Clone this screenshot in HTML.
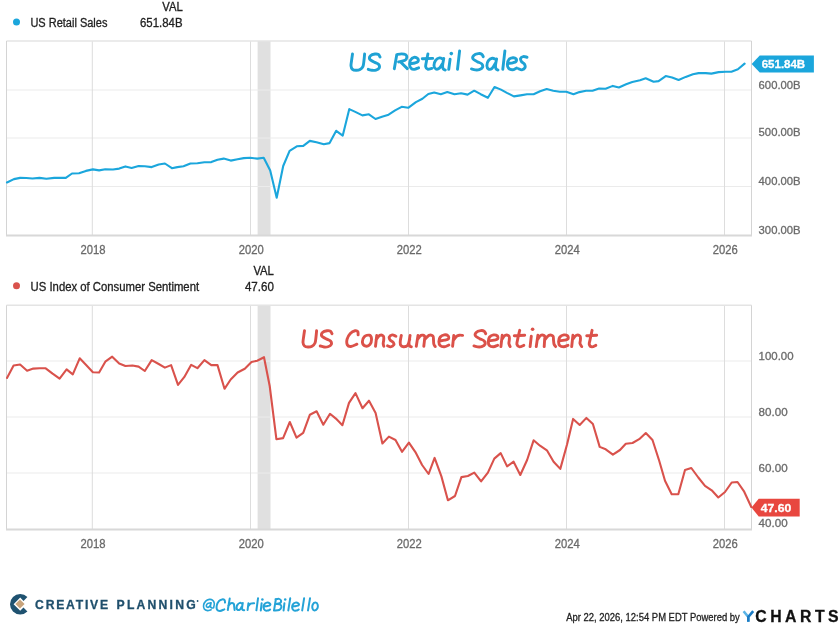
<!DOCTYPE html>
<html><head><meta charset="utf-8"><style>
html,body{margin:0;padding:0;background:#fff;width:840px;height:626px;overflow:hidden}
svg{display:block;font-family:"Liberation Sans", sans-serif;will-change:transform}
</style></head><body>
<svg width="840" height="626" viewBox="0 0 840 626">
<rect x="257.6" y="41" width="12.899999999999977" height="194.6" fill="#e0e0e0"/>
<line x1="6.5" y1="90" x2="751.5" y2="90" stroke="#ebebeb" stroke-width="1"/>
<line x1="6.5" y1="138" x2="751.5" y2="138" stroke="#ebebeb" stroke-width="1"/>
<line x1="6.5" y1="186.5" x2="751.5" y2="186.5" stroke="#ebebeb" stroke-width="1"/>
<line x1="92.3" y1="41" x2="92.3" y2="235.6" stroke="#dddddd" stroke-width="1"/>
<line x1="250.5" y1="41" x2="250.5" y2="235.6" stroke="#dddddd" stroke-width="1"/>
<line x1="408.5" y1="41" x2="408.5" y2="235.6" stroke="#dddddd" stroke-width="1"/>
<line x1="566.5" y1="41" x2="566.5" y2="235.6" stroke="#dddddd" stroke-width="1"/>
<line x1="724.5" y1="41" x2="724.5" y2="235.6" stroke="#dddddd" stroke-width="1"/>
<line x1="6.5" y1="41" x2="751.5" y2="41" stroke="#e4e4e4" stroke-width="1.6"/>
<line x1="6.5" y1="41" x2="6.5" y2="235.6" stroke="#d4d4d4" stroke-width="1"/>
<line x1="751.5" y1="41" x2="751.5" y2="235.6" stroke="#d4d4d4" stroke-width="1"/>
<line x1="6.0" y1="235.6" x2="752.0" y2="235.6" stroke="#d8d8d8" stroke-width="2"/>
<polyline points="7.0,182.5 13.9,179.1 20.1,177.9 26.3,178.0 32.5,178.5 39.5,177.9 46.4,178.8 54.2,177.9 65.8,177.9 72.0,173.5 79.0,173.2 85.9,170.9 92.9,169.4 99.1,170.4 105.3,169.2 113.0,169.5 119.2,168.6 125.4,166.4 131.6,167.9 138.6,166.0 144.8,166.3 151.7,167.1 158.7,164.5 164.9,163.5 171.9,168.2 177.3,167.1 183.5,166.3 190.4,163.5 197.4,163.2 204.4,162.3 211.3,162.1 217.5,159.8 223.7,158.6 230.7,160.6 237.6,159.3 243.8,158.1 250.1,157.7 257.3,158.6 263.7,157.7 270.2,170.4 276.7,197.7 283.2,166.0 289.6,150.9 296.8,146.3 303.3,145.9 309.8,140.9 316.5,142.2 323.8,144.2 329.6,143.1 336.2,130.8 342.7,135.7 349.3,109.1 355.8,112.1 362.4,115.4 368.9,114.3 375.5,119.0 382.0,116.7 388.6,114.7 395.1,110.4 401.7,106.8 408.2,107.8 415.9,102.1 422.4,98.8 428.3,94.0 434.2,92.5 440.8,94.2 447.3,92.0 454.5,94.2 461.1,93.3 467.6,94.6 474.2,90.7 480.7,94.2 487.9,97.8 494.5,87.0 501.0,89.6 506.9,92.9 513.9,96.4 520.5,95.4 527.0,94.3 533.6,94.3 540.1,91.2 546.7,89.1 553.2,90.8 559.8,91.7 566.3,91.7 573.5,94.3 579.4,92.1 586.0,90.8 592.5,90.8 599.1,88.5 605.6,88.8 612.8,85.9 618.9,87.5 626.1,84.3 632.3,82.1 640.0,80.3 645.7,78.3 653.6,81.7 658.6,81.1 665.7,76.1 672.1,77.6 678.6,80.0 685.7,76.9 692.9,74.3 698.6,73.1 705.7,73.1 711.4,73.6 718.6,72.1 725.7,71.7 731.4,71.7 737.9,69.3 744.6,63.6" fill="none" stroke="#1ba6dc" stroke-width="2.1" stroke-linejoin="round" stroke-linecap="round"/>
<rect x="257.6" y="305.3" width="12.899999999999977" height="224.2" fill="#e0e0e0"/>
<line x1="6.5" y1="361" x2="751.5" y2="361" stroke="#ebebeb" stroke-width="1"/>
<line x1="6.5" y1="417" x2="751.5" y2="417" stroke="#ebebeb" stroke-width="1"/>
<line x1="6.5" y1="473" x2="751.5" y2="473" stroke="#ebebeb" stroke-width="1"/>
<line x1="92.3" y1="305.3" x2="92.3" y2="529.5" stroke="#dddddd" stroke-width="1"/>
<line x1="250.5" y1="305.3" x2="250.5" y2="529.5" stroke="#dddddd" stroke-width="1"/>
<line x1="408.5" y1="305.3" x2="408.5" y2="529.5" stroke="#dddddd" stroke-width="1"/>
<line x1="566.5" y1="305.3" x2="566.5" y2="529.5" stroke="#dddddd" stroke-width="1"/>
<line x1="724.5" y1="305.3" x2="724.5" y2="529.5" stroke="#dddddd" stroke-width="1"/>
<line x1="6.5" y1="305.3" x2="751.5" y2="305.3" stroke="#e4e4e4" stroke-width="1.6"/>
<line x1="6.5" y1="305.3" x2="6.5" y2="529.5" stroke="#d4d4d4" stroke-width="1"/>
<line x1="751.5" y1="305.3" x2="751.5" y2="529.5" stroke="#d4d4d4" stroke-width="1"/>
<line x1="6.0" y1="529.5" x2="752.0" y2="529.5" stroke="#d8d8d8" stroke-width="2"/>
<polyline points="7.0,377.9 13.6,365.5 20.1,364.5 27.1,370.7 33.3,368.6 39.5,368.3 45.7,368.3 52.6,373.7 59.6,378.7 66.6,369.4 72.8,374.4 79.7,358.3 85.9,364.8 92.9,372.2 99.1,372.5 105.3,361.7 112.2,356.7 119.2,363.5 125.4,366.0 132.4,365.5 138.6,366.6 144.8,371.0 151.7,360.1 158.7,364.0 164.9,367.6 171.1,365.1 178.0,384.9 184.2,377.2 191.2,364.8 197.4,368.2 204.4,360.1 211.3,365.1 217.5,365.1 224.5,388.8 230.7,379.5 237.6,372.5 244.8,368.7 251.5,362.0 257.2,360.7 264.0,357.2 269.7,386.0 276.4,439.2 283.1,438.1 289.8,422.0 296.5,437.7 303.2,432.9 309.9,414.7 316.6,411.3 323.3,424.7 330.0,413.8 335.9,418.6 342.4,425.2 349.0,402.9 355.5,393.1 362.5,408.2 369.0,400.7 375.6,413.0 382.4,443.5 388.9,436.6 395.5,440.0 402.0,451.8 408.9,442.6 415.4,452.1 422.1,465.0 428.6,474.0 434.6,457.9 441.4,476.4 447.9,500.3 455.0,496.0 461.4,477.1 467.9,476.0 474.3,472.6 481.1,481.4 487.9,472.6 494.3,458.6 500.7,453.1 507.1,466.4 513.6,461.7 520.3,475.0 527.1,460.0 533.6,440.3 540.0,445.7 546.9,450.3 553.6,461.7 560.3,468.9 567.1,444.3 573.1,418.9 579.7,425.0 586.4,417.9 592.9,424.0 599.7,446.9 605.7,449.3 612.9,454.6 620.0,450.0 625.8,443.7 632.5,443.0 639.2,439.2 645.8,433.0 652.5,440.0 659.2,460.8 665.0,480.8 671.7,494.2 678.3,494.2 685.0,470.0 691.3,468.0 698.3,477.5 705.0,485.8 711.7,490.3 718.3,497.5 725.0,492.0 731.7,482.5 737.5,482.0 744.2,491.7 751.3,507.0" fill="none" stroke="#d9524c" stroke-width="2.1" stroke-linejoin="round" stroke-linecap="round"/>
<circle cx="16.5" cy="22" r="3.5" fill="#1ba6dc"/>
<text x="30.4" y="26.8" font-size="12" fill="#222" text-anchor="start" font-weight="normal" textLength="77" lengthAdjust="spacingAndGlyphs" stroke="#222" stroke-width="0.3" >US Retail Sales</text>
<text x="182.7" y="11.3" font-size="12" fill="#222" text-anchor="end" font-weight="normal" textLength="20.5" lengthAdjust="spacingAndGlyphs" stroke="#222" stroke-width="0.3" >VAL</text>
<text x="182.5" y="26.8" font-size="12" fill="#222" text-anchor="end" font-weight="normal" textLength="42.5" lengthAdjust="spacingAndGlyphs" stroke="#222" stroke-width="0.3" >651.84B</text>
<circle cx="16.5" cy="285.8" r="3.5" fill="#d9524c"/>
<text x="30.6" y="290.9" font-size="12" fill="#222" text-anchor="start" font-weight="normal" textLength="168.5" lengthAdjust="spacingAndGlyphs" stroke="#222" stroke-width="0.3" >US Index of Consumer Sentiment</text>
<text x="273.9" y="275.4" font-size="12" fill="#222" text-anchor="end" font-weight="normal" textLength="20.5" lengthAdjust="spacingAndGlyphs" stroke="#222" stroke-width="0.3" >VAL</text>
<text x="273.9" y="290.9" font-size="12" fill="#222" text-anchor="end" font-weight="normal" textLength="29" lengthAdjust="spacingAndGlyphs" stroke="#222" stroke-width="0.3" >47.60</text>
<text x="758.6" y="88.5" font-size="11.5" fill="#6a6a6a" text-anchor="start" font-weight="normal" textLength="42" lengthAdjust="spacingAndGlyphs" stroke="#6a6a6a" stroke-width="0.3" >600.00B</text>
<text x="758.6" y="136.3" font-size="11.5" fill="#6a6a6a" text-anchor="start" font-weight="normal" textLength="42" lengthAdjust="spacingAndGlyphs" stroke="#6a6a6a" stroke-width="0.3" >500.00B</text>
<text x="758.6" y="185.3" font-size="11.5" fill="#6a6a6a" text-anchor="start" font-weight="normal" textLength="42" lengthAdjust="spacingAndGlyphs" stroke="#6a6a6a" stroke-width="0.3" >400.00B</text>
<text x="758.6" y="233.5" font-size="11.5" fill="#6a6a6a" text-anchor="start" font-weight="normal" textLength="42" lengthAdjust="spacingAndGlyphs" stroke="#6a6a6a" stroke-width="0.3" >300.00B</text>
<text x="758.6" y="359.7" font-size="11.5" fill="#6a6a6a" text-anchor="start" font-weight="normal" textLength="35" lengthAdjust="spacingAndGlyphs" stroke="#6a6a6a" stroke-width="0.3" >100.00</text>
<text x="758.6" y="415.5" font-size="11.5" fill="#6a6a6a" text-anchor="start" font-weight="normal" textLength="29" lengthAdjust="spacingAndGlyphs" stroke="#6a6a6a" stroke-width="0.3" >80.00</text>
<text x="758.6" y="471.6" font-size="11.5" fill="#6a6a6a" text-anchor="start" font-weight="normal" textLength="29" lengthAdjust="spacingAndGlyphs" stroke="#6a6a6a" stroke-width="0.3" >60.00</text>
<text x="758.6" y="527.4" font-size="11.5" fill="#6a6a6a" text-anchor="start" font-weight="normal" textLength="29" lengthAdjust="spacingAndGlyphs" stroke="#6a6a6a" stroke-width="0.3" >40.00</text>
<text x="93.0" y="253.6" font-size="12" fill="#6a6a6a" text-anchor="middle" font-weight="normal" textLength="25" lengthAdjust="spacingAndGlyphs" stroke="#6a6a6a" stroke-width="0.3" >2018</text>
<text x="93.0" y="547.6" font-size="12" fill="#6a6a6a" text-anchor="middle" font-weight="normal" textLength="25" lengthAdjust="spacingAndGlyphs" stroke="#6a6a6a" stroke-width="0.3" >2018</text>
<text x="251.2" y="253.6" font-size="12" fill="#6a6a6a" text-anchor="middle" font-weight="normal" textLength="25" lengthAdjust="spacingAndGlyphs" stroke="#6a6a6a" stroke-width="0.3" >2020</text>
<text x="251.2" y="547.6" font-size="12" fill="#6a6a6a" text-anchor="middle" font-weight="normal" textLength="25" lengthAdjust="spacingAndGlyphs" stroke="#6a6a6a" stroke-width="0.3" >2020</text>
<text x="409.2" y="253.6" font-size="12" fill="#6a6a6a" text-anchor="middle" font-weight="normal" textLength="25" lengthAdjust="spacingAndGlyphs" stroke="#6a6a6a" stroke-width="0.3" >2022</text>
<text x="409.2" y="547.6" font-size="12" fill="#6a6a6a" text-anchor="middle" font-weight="normal" textLength="25" lengthAdjust="spacingAndGlyphs" stroke="#6a6a6a" stroke-width="0.3" >2022</text>
<text x="567.2" y="253.6" font-size="12" fill="#6a6a6a" text-anchor="middle" font-weight="normal" textLength="25" lengthAdjust="spacingAndGlyphs" stroke="#6a6a6a" stroke-width="0.3" >2024</text>
<text x="567.2" y="547.6" font-size="12" fill="#6a6a6a" text-anchor="middle" font-weight="normal" textLength="25" lengthAdjust="spacingAndGlyphs" stroke="#6a6a6a" stroke-width="0.3" >2024</text>
<text x="725.2" y="253.6" font-size="12" fill="#6a6a6a" text-anchor="middle" font-weight="normal" textLength="25" lengthAdjust="spacingAndGlyphs" stroke="#6a6a6a" stroke-width="0.3" >2026</text>
<text x="725.2" y="547.6" font-size="12" fill="#6a6a6a" text-anchor="middle" font-weight="normal" textLength="25" lengthAdjust="spacingAndGlyphs" stroke="#6a6a6a" stroke-width="0.3" >2026</text>
<path d="M751.7,64 L759.7,55.5 L813.9000000000001,55.5 L813.9000000000001,72.5 L759.7,72.5 Z" fill="#1ba6dc"/><text x="761.7" y="68.2" font-size="11.5" fill="#fff" text-anchor="start" font-weight="bold" textLength="43.5" lengthAdjust="spacingAndGlyphs" stroke="#fff" stroke-width="0.3" >651.84B</text>
<path d="M751.5,507.6 L758.7,498.70000000000005 L799.7,498.70000000000005 L799.7,516.5 L758.7,516.5 Z" fill="#e8473f"/><text x="760.7" y="511.8" font-size="11.5" fill="#fff" text-anchor="start" font-weight="bold" textLength="30.5" lengthAdjust="spacingAndGlyphs" stroke="#fff" stroke-width="0.3" >47.60</text>
<path d="M352.50,54.05C352.38,54.92 352.00,57.34 351.75,59.30C351.50,61.26 350.88,64.13 351.00,65.80C351.12,67.47 351.67,68.55 352.50,69.30C353.33,70.05 354.75,70.26 356.00,70.30C357.25,70.34 358.83,70.22 360.00,69.55C361.17,68.88 362.33,67.84 363.00,66.30C363.67,64.76 363.73,62.34 364.00,60.30C364.27,58.26 364.50,55.09 364.60,54.05M380.00,57.05C379.75,56.63 379.33,55.05 378.50,54.55C377.67,54.05 376.33,53.84 375.00,54.05C373.67,54.26 371.38,54.92 370.50,55.80C369.62,56.67 369.17,58.26 369.75,59.30C370.33,60.34 372.54,61.22 374.00,62.05C375.46,62.88 377.62,63.34 378.50,64.30C379.38,65.26 379.67,66.84 379.25,67.80C378.83,68.76 377.21,69.63 376.00,70.05C374.79,70.47 373.29,70.42 372.00,70.30C370.71,70.17 368.88,69.47 368.25,69.30M396.80,54.60L394.30,68.70M396.80,54.60C397.58,54.48 400.03,53.90 401.50,53.90C402.97,53.90 404.72,54.03 405.60,54.60C406.48,55.17 406.90,56.35 406.80,57.30C406.70,58.25 406.37,59.53 405.00,60.30C403.63,61.07 399.67,61.63 398.60,61.90M400.30,61.80L407.30,68.60M410.90,63.60C411.55,63.50 413.63,63.33 414.80,63.00C415.97,62.67 417.43,62.33 417.90,61.60C418.37,60.87 418.25,59.30 417.60,58.60C416.95,57.90 415.17,57.17 414.00,57.40C412.83,57.63 411.33,58.82 410.60,60.00C409.87,61.18 409.53,63.12 409.60,64.50C409.67,65.88 410.22,67.48 411.00,68.30C411.78,69.12 413.03,69.48 414.30,69.40C415.57,69.32 417.88,68.07 418.60,67.80M427.90,54.00C427.63,55.33 426.67,59.87 426.30,62.00C425.93,64.13 425.48,65.60 425.70,66.80C425.92,68.00 426.57,68.93 427.60,69.20C428.63,69.47 431.18,68.53 431.90,68.40M422.30,58.70L432.70,58.40M443.30,59.25C442.68,59.02 440.88,57.73 439.60,57.90C438.32,58.07 436.53,59.03 435.60,60.30C434.67,61.57 433.97,64.05 434.00,65.50C434.03,66.95 434.90,68.55 435.80,69.00C436.70,69.45 438.22,69.20 439.40,68.20C440.58,67.20 442.32,63.87 442.90,63.00M443.75,58.50C443.56,59.67 442.69,63.78 442.60,65.50C442.51,67.22 442.77,68.05 443.20,68.80C443.63,69.55 444.87,69.80 445.20,70.00M450.10,59.25L448.75,69.25M459.60,50.90L457.50,69.25M483.25,56.65C483.00,56.23 482.58,54.65 481.75,54.15C480.92,53.65 479.58,53.44 478.25,53.65C476.92,53.86 474.62,54.52 473.75,55.40C472.88,56.27 472.42,57.86 473.00,58.90C473.58,59.94 475.79,60.82 477.25,61.65C478.71,62.48 480.88,62.94 481.75,63.90C482.62,64.86 482.92,66.44 482.50,67.40C482.08,68.36 480.46,69.23 479.25,69.65C478.04,70.07 476.54,70.03 475.25,69.90C473.96,69.78 472.12,69.07 471.50,68.90M496.20,59.70C495.55,59.47 493.60,58.13 492.30,58.30C491.00,58.47 489.30,59.45 488.40,60.70C487.50,61.95 486.87,64.40 486.90,65.80C486.93,67.20 487.73,68.68 488.60,69.10C489.47,69.52 490.98,69.25 492.10,68.30C493.22,67.35 494.77,64.22 495.30,63.40M496.60,58.90C496.42,60.00 495.60,63.85 495.50,65.50C495.40,67.15 495.60,68.05 496.00,68.80C496.40,69.55 497.58,69.80 497.90,70.00M504.90,50.90L502.80,69.25M508.70,63.40C509.38,63.30 511.58,63.12 512.80,62.80C514.02,62.48 515.47,62.17 516.00,61.50C516.53,60.83 516.52,59.42 516.00,58.80C515.48,58.18 514.07,57.70 512.90,57.80C511.73,57.90 509.92,58.37 509.00,59.40C508.08,60.43 507.47,62.52 507.40,64.00C507.33,65.48 507.77,67.33 508.60,68.30C509.43,69.27 511.07,69.85 512.40,69.80C513.73,69.75 515.90,68.30 516.60,68.00M527.00,57.20C526.38,57.10 524.32,56.40 523.25,56.60C522.18,56.80 520.89,57.57 520.60,58.40C520.31,59.23 520.87,60.67 521.50,61.60C522.13,62.53 523.82,63.00 524.40,64.00C524.98,65.00 525.43,66.63 525.00,67.60C524.57,68.57 522.85,69.60 521.80,69.80C520.75,70.00 519.22,68.97 518.70,68.80" fill="none" stroke="#1fa2d4" stroke-width="2.9" stroke-linecap="round" stroke-linejoin="round"/><circle cx="451.3" cy="53.6" r="1.8" fill="#1fa2d4"/>
<path d="M304.50,330.75C304.38,331.62 304.00,334.04 303.75,336.00C303.50,337.96 302.88,340.83 303.00,342.50C303.12,344.17 303.67,345.25 304.50,346.00C305.33,346.75 306.75,346.96 308.00,347.00C309.25,347.04 310.83,346.92 312.00,346.25C313.17,345.58 314.33,344.54 315.00,343.00C315.67,341.46 315.73,339.04 316.00,337.00C316.27,334.96 316.50,331.79 316.60,330.75M332.00,333.75C331.75,333.33 331.33,331.75 330.50,331.25C329.67,330.75 328.33,330.54 327.00,330.75C325.67,330.96 323.38,331.62 322.50,332.50C321.62,333.38 321.17,334.96 321.75,336.00C322.33,337.04 324.54,337.92 326.00,338.75C327.46,339.58 329.62,340.04 330.50,341.00C331.38,341.96 331.67,343.54 331.25,344.50C330.83,345.46 329.21,346.33 328.00,346.75C326.79,347.17 325.29,347.12 324.00,347.00C322.71,346.88 320.88,346.17 320.25,346.00M358.10,334.90C358.05,334.36 358.30,332.34 357.80,331.65C357.30,330.96 356.35,330.46 355.10,330.75C353.85,331.04 351.63,332.01 350.30,333.40C348.97,334.79 347.58,337.17 347.10,339.10C346.62,341.03 346.77,343.77 347.40,345.00C348.03,346.23 349.32,346.63 350.90,346.50C352.48,346.37 355.90,344.58 356.90,344.20M369.40,335.20C370.60,335.55 371.40,337.26 371.50,338.80C371.60,340.34 370.95,343.22 370.00,344.45C369.05,345.68 367.05,346.49 365.80,346.20C364.55,345.91 362.75,344.28 362.50,342.70C362.25,341.12 363.15,337.95 364.30,336.70C365.45,335.45 368.20,334.85 369.40,335.20M376.75,335.40L375.50,346.25M376.20,339.60C376.78,338.90 378.50,335.97 379.70,335.40C380.90,334.83 382.73,335.43 383.40,336.20C384.07,336.97 383.73,338.78 383.70,340.00C383.67,341.22 383.18,342.46 383.20,343.50C383.22,344.54 383.70,345.79 383.80,346.25M395.90,336.25C395.28,336.02 393.30,334.76 392.20,334.90C391.10,335.04 389.63,336.22 389.30,337.10C388.97,337.98 389.55,339.33 390.20,340.20C390.85,341.07 392.60,341.52 393.20,342.30C393.80,343.08 394.23,344.13 393.80,344.90C393.37,345.67 391.63,346.75 390.60,346.90C389.57,347.05 388.10,345.98 387.60,345.80M401.30,335.40C401.13,336.33 400.42,339.40 400.30,341.00C400.18,342.60 400.08,344.05 400.60,345.00C401.12,345.95 402.23,346.63 403.40,346.70C404.57,346.77 406.55,346.65 407.60,345.40C408.65,344.15 409.35,340.23 409.70,339.20M410.10,335.40C409.92,336.58 409.10,340.77 409.00,342.50C408.90,344.23 409.12,345.08 409.50,345.80C409.88,346.52 411.00,346.63 411.30,346.80M418.00,335.40L416.30,346.25M417.60,339.20C418.17,338.55 419.83,335.82 421.00,335.30C422.17,334.78 424.02,335.32 424.60,336.10C425.18,336.88 424.63,338.31 424.50,340.00C424.37,341.69 423.92,345.21 423.80,346.25M424.70,339.60C425.40,338.88 427.53,335.90 428.90,335.30C430.27,334.70 432.13,335.22 432.90,336.00C433.67,336.78 433.35,338.67 433.50,340.00C433.65,341.33 433.52,342.92 433.80,344.00C434.08,345.08 434.97,346.08 435.20,346.50M440.10,340.80C440.85,340.70 443.22,340.53 444.60,340.20C445.98,339.87 447.83,339.53 448.40,338.80C448.97,338.07 448.70,336.45 448.00,335.80C447.30,335.15 445.48,334.70 444.20,334.90C442.92,335.10 441.18,335.90 440.30,337.00C439.42,338.10 438.92,340.08 438.90,341.50C438.88,342.92 439.31,344.62 440.20,345.50C441.09,346.38 442.82,346.88 444.25,346.80C445.68,346.72 448.04,345.30 448.80,345.00M453.80,335.40L452.60,346.25M453.40,340.40C453.97,339.70 455.77,337.07 456.80,336.20C457.83,335.33 458.63,335.33 459.60,335.20C460.57,335.07 462.10,335.37 462.60,335.40M485.70,333.65C485.45,333.23 485.03,331.65 484.20,331.15C483.37,330.65 482.03,330.44 480.70,330.65C479.37,330.86 477.07,331.52 476.20,332.40C475.32,333.27 474.87,334.86 475.45,335.90C476.03,336.94 478.24,337.82 479.70,338.65C481.16,339.48 483.32,339.94 484.20,340.90C485.07,341.86 485.37,343.44 484.95,344.40C484.53,345.36 482.91,346.23 481.70,346.65C480.49,347.07 478.99,347.02 477.70,346.90C476.41,346.77 474.57,346.07 473.95,345.90M489.70,340.75C490.42,340.66 492.68,340.51 494.00,340.20C495.32,339.89 497.05,339.62 497.60,338.90C498.15,338.18 497.98,336.57 497.30,335.90C496.62,335.23 494.78,334.72 493.50,334.90C492.22,335.08 490.47,335.90 489.60,337.00C488.73,338.10 488.33,340.08 488.30,341.50C488.27,342.92 488.55,344.62 489.40,345.50C490.25,346.38 492.03,346.83 493.40,346.80C494.77,346.77 496.90,345.55 497.60,345.30M502.20,335.30L500.90,346.60M501.75,339.50C502.34,338.80 504.09,335.87 505.30,335.30C506.51,334.73 508.33,335.32 509.00,336.10C509.67,336.88 509.32,338.77 509.30,340.00C509.28,341.23 508.77,342.40 508.90,343.50C509.03,344.60 509.90,346.08 510.10,346.60M519.70,330.30C519.33,331.92 517.95,337.63 517.50,340.00C517.05,342.37 516.65,343.35 517.00,344.50C517.35,345.65 518.47,346.77 519.60,346.90C520.73,347.03 523.10,345.57 523.80,345.30M514.25,335.75L524.70,335.30M531.30,336.20L530.10,346.60M537.90,335.30L536.25,346.60M537.50,339.50C538.08,338.80 539.80,335.87 541.00,335.30C542.20,334.73 544.10,335.32 544.70,336.10C545.30,336.88 544.68,338.25 544.60,340.00C544.52,341.75 544.27,345.50 544.20,346.60M545.00,339.50C545.65,338.80 547.58,335.87 548.90,335.30C550.22,334.73 552.13,335.32 552.90,336.10C553.67,336.88 553.32,338.68 553.50,340.00C553.68,341.32 553.65,342.90 554.00,344.00C554.35,345.10 555.33,346.17 555.60,346.60M560.00,340.75C560.73,340.66 563.07,340.51 564.40,340.20C565.73,339.89 567.47,339.62 568.00,338.90C568.53,338.18 568.30,336.57 567.60,335.90C566.90,335.23 565.08,334.72 563.80,334.90C562.52,335.08 560.77,335.90 559.90,337.00C559.03,338.10 558.63,340.08 558.60,341.50C558.57,342.92 558.84,344.62 559.70,345.50C560.56,346.38 562.38,346.83 563.75,346.80C565.12,346.77 567.21,345.55 567.90,345.30M572.90,335.30L571.70,346.60M572.50,339.50C573.15,338.80 575.13,335.87 576.40,335.30C577.67,334.73 579.43,335.32 580.10,336.10C580.77,336.88 580.42,338.77 580.40,340.00C580.38,341.23 579.78,342.40 580.00,343.50C580.22,344.60 581.42,346.08 581.70,346.60M592.10,330.30C591.75,331.92 590.47,337.63 590.00,340.00C589.53,342.37 588.97,343.35 589.30,344.50C589.63,345.65 590.92,346.77 592.00,346.90C593.08,347.03 595.17,345.57 595.80,345.30M586.70,335.75L596.70,335.30" fill="none" stroke="#db5149" stroke-width="2.9" stroke-linecap="round" stroke-linejoin="round"/><circle cx="532.6" cy="329.3" r="1.8" fill="#db5149"/>
<path d="M210.40,602.90C209.98,602.97 208.58,602.85 207.90,603.30C207.22,603.75 206.37,604.93 206.30,605.60C206.23,606.27 206.95,607.17 207.50,607.30C208.05,607.43 209.07,606.95 209.60,606.40C210.13,605.85 210.52,604.40 210.70,604.00M211.10,602.75C211.00,603.31 210.45,605.26 210.50,606.10C210.55,606.94 210.88,607.52 211.40,607.80C211.92,608.08 213.23,607.80 213.60,607.80M213.60,607.80C213.72,607.05 214.48,604.58 214.30,603.30C214.12,602.02 213.33,600.75 212.50,600.10C211.67,599.45 210.43,599.23 209.30,599.40C208.17,599.57 206.65,600.15 205.70,601.10C204.75,602.05 203.83,603.78 203.60,605.10C203.37,606.42 203.65,608.08 204.30,609.00C204.95,609.92 206.37,610.48 207.50,610.60C208.63,610.72 210.50,609.85 211.10,609.70" fill="none" stroke="#25a3d7" stroke-width="1.6" stroke-linecap="round" stroke-linejoin="round"/>
<path d="M225.00,602.60C224.93,602.18 225.08,600.63 224.60,600.10C224.12,599.57 223.05,599.23 222.10,599.40C221.15,599.57 219.78,600.10 218.90,601.10C218.02,602.10 217.10,603.97 216.80,605.40C216.50,606.83 216.57,608.77 217.10,609.70C217.63,610.63 218.80,611.05 220.00,611.00C221.20,610.95 223.58,609.67 224.30,609.40M229.70,598.60L227.80,610.00M228.30,605.80C228.73,605.38 230.00,603.63 230.90,603.30C231.80,602.97 233.15,603.25 233.70,603.80C234.25,604.35 234.05,605.57 234.20,606.60C234.35,607.63 234.53,609.43 234.60,610.00M242.00,603.60C241.65,603.48 240.67,602.68 239.90,602.90C239.13,603.12 237.95,604.02 237.40,604.90C236.85,605.78 236.53,607.35 236.60,608.20C236.67,609.05 237.23,609.80 237.80,610.00C238.37,610.20 239.32,610.00 240.00,609.40C240.68,608.80 241.58,606.90 241.90,606.40M242.80,603.00C242.68,603.80 242.13,606.67 242.10,607.80C242.07,608.93 242.25,609.40 242.60,609.80C242.95,610.20 243.93,610.13 244.20,610.20M248.40,603.30L247.60,610.00M248.00,606.40C248.43,605.93 249.58,604.13 250.60,603.60C251.62,603.07 253.52,603.27 254.10,603.20M258.00,598.30L256.40,610.30M261.60,603.30L260.80,610.40M264.70,606.40C265.17,606.33 266.60,606.22 267.50,606.00C268.40,605.78 269.75,605.57 270.10,605.10C270.45,604.63 270.15,603.62 269.60,603.20C269.05,602.78 267.70,602.37 266.80,602.60C265.90,602.83 264.73,603.73 264.20,604.60C263.67,605.47 263.47,606.85 263.60,607.80C263.73,608.75 264.33,609.83 265.00,610.30C265.67,610.77 266.75,610.73 267.60,610.60C268.45,610.47 269.68,609.68 270.10,609.50M275.90,599.00L274.00,610.60M275.50,599.30C276.08,599.23 278.08,598.68 279.00,598.90C279.92,599.12 280.83,599.88 281.00,600.60C281.17,601.32 280.98,602.60 280.00,603.20C279.02,603.80 275.92,604.03 275.10,604.20M276.50,604.00C277.17,604.13 279.70,604.20 280.50,604.80C281.30,605.40 281.52,606.73 281.30,607.60C281.08,608.47 280.36,609.50 279.20,610.00C278.04,610.50 275.16,610.50 274.35,610.60M284.40,603.30L283.60,610.40M290.20,598.30L288.30,610.40M293.30,606.40C293.77,606.33 295.20,606.22 296.10,606.00C297.00,605.78 298.35,605.57 298.70,605.10C299.05,604.63 298.75,603.62 298.20,603.20C297.65,602.78 296.30,602.37 295.40,602.60C294.50,602.83 293.33,603.73 292.80,604.60C292.27,605.47 292.07,606.85 292.20,607.80C292.33,608.75 292.93,609.83 293.60,610.30C294.27,610.77 295.35,610.73 296.20,610.60C297.05,610.47 298.28,609.68 298.70,609.50M304.10,598.30L302.20,610.40M310.00,598.30L308.00,610.40M315.60,602.60C316.40,602.62 317.32,603.62 317.60,604.60C317.88,605.58 317.80,607.53 317.30,608.50C316.80,609.47 315.38,610.35 314.60,610.40C313.82,610.45 312.90,609.78 312.60,608.80C312.30,607.82 312.30,605.53 312.80,604.50C313.30,603.47 314.80,602.58 315.60,602.60" fill="none" stroke="#25a3d7" stroke-width="2.0" stroke-linecap="round" stroke-linejoin="round"/><circle cx="262.4" cy="599.6" r="1.25" fill="#25a3d7"/><circle cx="285.2" cy="599.6" r="1.25" fill="#25a3d7"/>
<text x="566.3" y="621.3" font-size="11" fill="#222" text-anchor="start" font-weight="normal" textLength="173.5" lengthAdjust="spacingAndGlyphs" stroke="#222" stroke-width="0.3" >Apr 22, 2026, 12:54 PM EDT Powered by</text>
<path d="M27.41,596.99 A10.2,10.2 0 1 0 27.41,611.41 L23.50,607.50 L20.20,610.80 L13.60,604.20 L20.20,597.60 L23.50,600.90 Z" fill="#1f5270"/>
<path d="M15.4,604.0 L20.0,599.4 L24.6,604.0 L20.0,608.6 Z" fill="#c8a47c"/>
<text x="35.1" y="608.9" font-size="12.2" fill="#1f4f6c" text-anchor="start" font-weight="bold" stroke="#1f4f6c" stroke-width="0.3" letter-spacing="1.75">CREATIVE</text>
<text x="116.6" y="608.9" font-size="12.2" fill="#1f4f6c" text-anchor="start" font-weight="bold" stroke="#1f4f6c" stroke-width="0.3" letter-spacing="2.2">PLANNING</text>
<circle cx="197.6" cy="601" r="0.9" fill="#1f4f6c"/>
<path d="M743.6,611.2 L748.3,617 L748.3,621.8" fill="none" stroke="#5ab4e6" stroke-width="2.6" stroke-linejoin="miter"/>
<path d="M753.2,611.2 L748.3,617 L748.3,621.8" fill="none" stroke="#1c7cc4" stroke-width="2.6" stroke-linejoin="miter"/>
<text x="755.3" y="622.2" font-size="15.8" fill="#111" text-anchor="start" font-weight="bold" stroke="#111" stroke-width="0.3" letter-spacing="3.5">CHARTS</text>
</svg>
</body></html>
